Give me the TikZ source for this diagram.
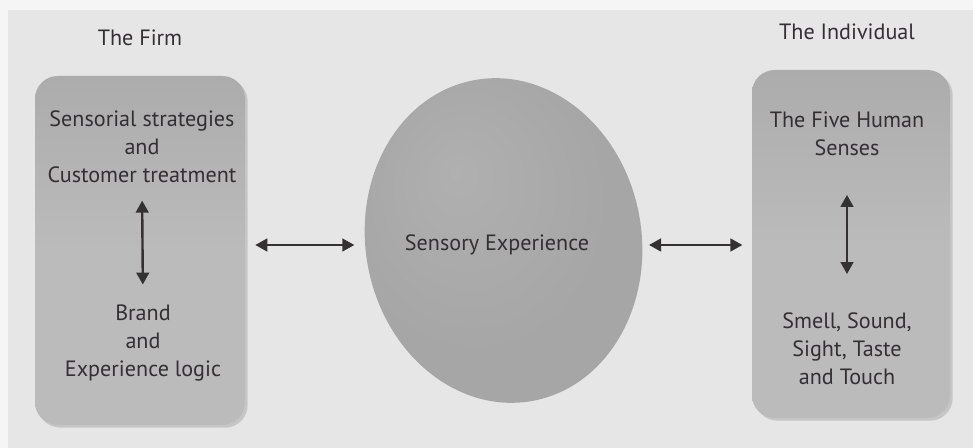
\documentclass[tikz,border=0pt]{standalone}
\usepackage{fontspec}
\setmainfont{PT Sans}
\usetikzlibrary{arrows.meta,shapes.geometric,shadows}

\definecolor{paper}{HTML}{E6E6E7}
\definecolor{paperedge}{HTML}{F5F5F5}
\definecolor{panelhi}{HTML}{BBBBBB}
\definecolor{panello}{HTML}{ACACAC}
\definecolor{orbhi}{HTML}{B0B0B0}
\definecolor{orbmid}{HTML}{A6A6A6}
\definecolor{orblo}{HTML}{949494}
\definecolor{ink}{HTML}{332F33}
\definecolor{arrowc}{HTML}{353133}

% off-centre radial shading for the sphere
\pgfdeclareradialshading{orbshade}{\pgfpoint{-8bp}{10bp}}{%
  color(0bp)=(orbhi); color(22bp)=(orbmid); color(42bp)=(orbmid); color(50bp)=(orblo)}

\begin{document}
\begin{tikzpicture}[x=0.75pt,y=-0.75pt,
  label/.style={font=\fontsize{16.6}{21}\selectfont, text=ink, align=center, inner sep=0pt},
  panel/.style={rounded corners=17pt, top color=panello, bottom color=panelhi,
    middle color=panelhi, draw=none, inner sep=0pt,
    drop shadow={shadow xshift=2pt, shadow yshift=-2pt, opacity=0.35, fill=black!45}},
  dbl/.style={{Triangle[length=9pt,width=9.5pt]}-{Triangle[length=9pt,width=9.5pt]},
    line width=1.8pt, draw=arrowc},
]
% page
\fill[paperedge] (0,0) rectangle (973,448);
\fill[paper] (8,10) rectangle (973,448);
\useasboundingbox (0,0) rectangle (973,448);

% headings
\node[label] (firm) at (140,38) {The Firm};
\node[label] (indiv) at (847,32) {The Individual};

% panels
\node[panel, minimum width=157.5pt, minimum height=261.75pt] (firmbox) at (140,250.5) {};
\node[panel, minimum width=148.5pt, minimum height=261pt] (indbox) at (851,244) {};

% sphere
\node[ellipse, shading=orbshade, draw=none, rotate=10, inner sep=0pt,
  minimum width=207pt, minimum height=244.5pt] (orb) at (503.5,240.5) {};
\node[label] (orblabel) at (497,245) {Sensory Experience};

% panel contents
\node[label] (strat) at (142,147) {Sensorial strategies\\and\\Customer treatment};
\node[label] (brand) at (143,343) {Brand\\and\\Experience logic};
\node[label] (senses) at (847,134) {The Five Human\\Senses};
\node[label] (five) at (847,349) {Smell, Sound,\\Sight, Taste\\and Touch};

% connectors
\draw[dbl, shorten <=13pt, shorten >=15pt] (strat.south) -- (brand.north);
\draw[dbl, shorten <=29pt, shorten >=29pt] (senses.south) -- (five.north);
\draw[dbl] ([xshift=7.5pt]firmbox.east |- orblabel.center) -- ([xshift=-9.75pt]orb.west |- orblabel.center);
\draw[dbl] ([xshift=7pt]orb.east |- orblabel.center) -- ([xshift=-7pt]indbox.west |- orblabel.center);
\end{tikzpicture}
\end{document}
